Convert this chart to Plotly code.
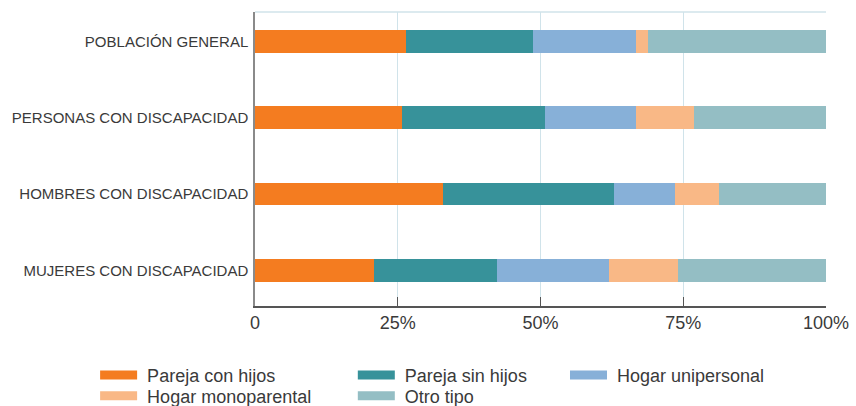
import plotly.graph_objects as go

categories = ["POBLACIÓN GENERAL", "PERSONAS CON DISCAPACIDAD",
              "HOMBRES CON DISCAPACIDAD", "MUJERES CON DISCAPACIDAD"]
series_names = ["Pareja con hijos", "Pareja sin hijos", "Hogar unipersonal",
                "Hogar monoparental", "Otro tipo"]
pareja_con_hijos = [26.5, 25.8, 32.9, 20.9]
pareja_sin_hijos = [22.2, 25.0, 30.0, 21.5]
hogar_unipersonal = [18.0, 15.9, 10.7, 19.6]
hogar_monoparental = [2.1, 10.1, 7.7, 12.1]
otro_tipo = [31.2, 23.2, 19.0, 25.9]
tick_vals = [0, 25, 50, 75, 100]
tick_text = ["0", "25%", "50%", "75%", "100%"]

colors = ["#f47c20", "#37929a", "#87b0d8", "#f9b886", "#94bec4"]
values = [pareja_con_hijos, pareja_sin_hijos, hogar_unipersonal,
          hogar_monoparental, otro_tipo]

# legend placement: one small legend per entry (column x, row y in paper coords)
legend_pos = {
    "Pareja con hijos": (-0.280, -0.236),
    "Pareja sin hijos": (0.1713, -0.236),
    "Hogar unipersonal": (0.5429, -0.236),
    "Hogar monoparental": (-0.280, -0.306),
    "Otro tipo": (0.1713, -0.306),
}

fig = go.Figure()
layout_legends = {}
for i, (name, vals, col) in enumerate(zip(series_names, values, colors)):
    fig.add_trace(go.Bar(
        y=categories, x=vals, name=name, orientation="h",
        marker=dict(color=col, line=dict(width=0)),
        width=0.297, showlegend=False, hoverinfo="x+name",
    ))
    lname = "legend" if i == 0 else f"legend{i+1}"
    fig.add_trace(go.Scatter(
        x=[None], y=[None], mode="lines", name="\u00a0" + name,
        line=dict(color=col, width=9), legend=lname, showlegend=True,
    ))
    lx, ly = legend_pos[name]
    layout_legends[lname] = dict(
        x=lx, y=ly, xref="paper", yref="paper", xanchor="left", yanchor="middle",
        orientation="v", bgcolor="rgba(0,0,0,0)", borderwidth=0,
        font=dict(family="Liberation Sans, Arial, sans-serif", size=18, color="#3a3a3a"),
        itemwidth=37, itemclick=False, itemdoubleclick=False,
    )

fig.update_layout(
    width=856, height=406,
    margin=dict(l=255, r=30, t=12, b=100, autoexpand=False),
    barmode="stack",
    bargap=0,
    paper_bgcolor="white", plot_bgcolor="white",
    font=dict(family="Liberation Sans, Arial, sans-serif", color="#3a3a3a"),
    **layout_legends,
    xaxis=dict(
        range=[0, 100], tickvals=tick_vals, ticktext=tick_text,
        showgrid=True, gridcolor="#d0e3ea", gridwidth=1,
        showline=True, linecolor="#555555", linewidth=1.5,
        ticks="inside", ticklen=9, tickcolor="#555555", tickwidth=1,
        tickfont=dict(size=18, color="#3a3a3a"), zeroline=False,
        fixedrange=True, automargin=False,
    ),
    yaxis=dict(
        type="category", categoryorder="array", categoryarray=categories,
        range=[3.468, -0.384],
        showgrid=False, showline=True, linecolor="#8a8a8a", linewidth=1.5,
        ticks="", tickfont=dict(size=15, color="#3a3a3a"),
        ticklabelstandoff=2, fixedrange=True, automargin=False,
    ),
    shapes=[dict(type="line", xref="paper", yref="paper", x0=0, x1=1, y0=1, y1=1,
                 line=dict(color="#d0e3ea", width=1.5), layer="below")],
)

fig.write_html(
    "out.html",
    config={"displayModeBar": False},
    post_script="document.body.style.margin='0';document.body.style.padding='0';",
)
